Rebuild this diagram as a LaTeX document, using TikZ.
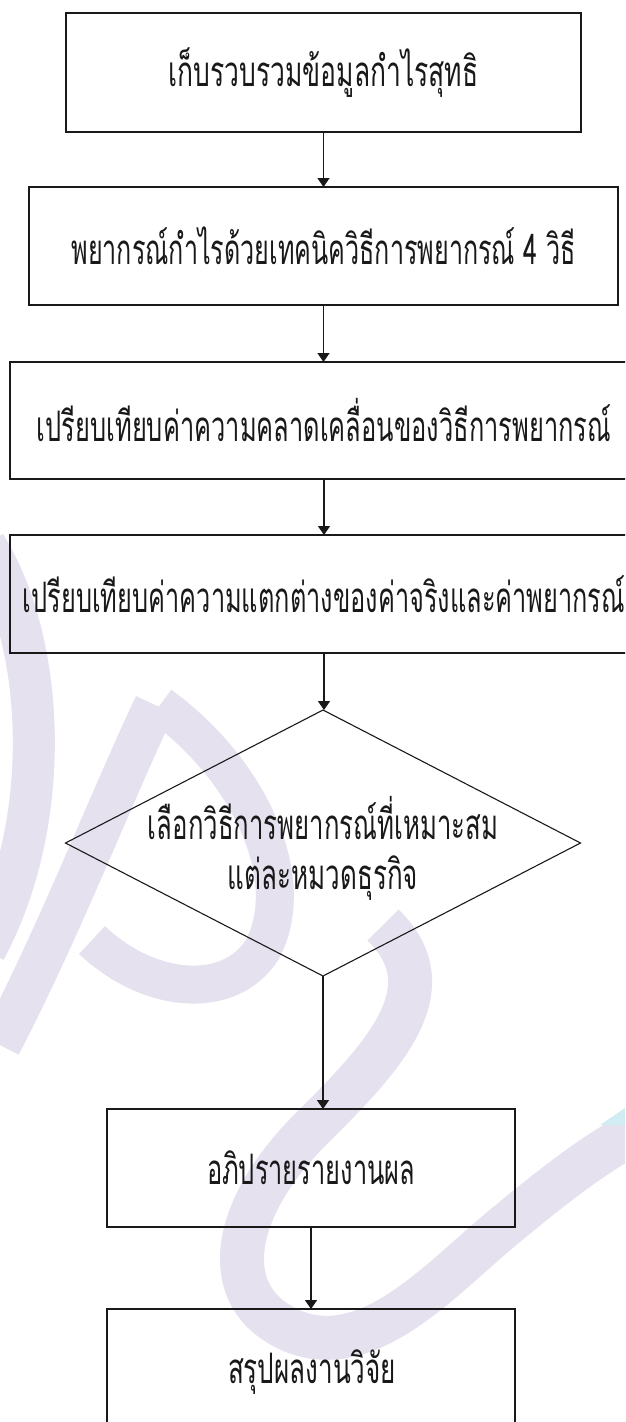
\documentclass[tikz,border=0pt]{standalone}
\usepackage{fontspec}
\usepackage{graphicx}
\newfontfamily\thai[Script=Thai]{Loma}
\usetikzlibrary{arrows.meta,shapes.geometric}
\definecolor{wm}{RGB}{229,225,239}
\definecolor{wmc}{RGB}{210,236,244}
\definecolor{ink}{RGB}{25,25,25}
\newcommand{\tx}[2]{\resizebox{#1pt}{\height}{#2}}
\tikzset{
  box/.style={draw=ink, line width=1.8pt, rectangle, inner sep=0pt, outer sep=0pt,
    font=\thai\fontsize{42}{48}\selectfont, text=ink},
  dia/.style={draw=ink, line width=1.1pt, diamond, inner sep=0pt, outer sep=0pt},
  lbl/.style={font=\thai\fontsize{42}{50}\selectfont, text=ink, inner sep=0pt, align=center},
  arr/.style={draw=ink, line width=1.5pt, -{Triangle[width=12pt,length=9pt]}},
  wmark/.style={draw=wm, line width=#1, line cap=butt},
}
\begin{document}
\begin{tikzpicture}[x=1pt,y=-1pt]
\useasboundingbox (0,0) rectangle (625,1422);
\clip (0,0) rectangle (625,1422);
% watermark
\draw[wmark=42pt] (-15,545) .. controls (45,640) and (55,820) .. (-15,950);
\draw[wmark=42pt] (155,705) .. controls (110,800) and (60,930) .. (0,1045);
\draw[wmark=38pt] (160,705) .. controls (250,770) and (300,880) .. (262,950)
  .. controls (230,1000) and (150,995) .. (92,940);
\draw[wmark=44pt] (383,925) .. controls (450,990) and (380,1060) .. (310,1130)
  .. controls (230,1210) and (215,1300) .. (295,1332)
  .. controls (370,1360) and (440,1280) .. (500,1230)
  .. controls (560,1180) and (600,1150) .. (640,1130);
\fill[wmc] (600,1125) -- (625,1108) -- (625,1125) -- cycle;
% flow
\node[box, minimum width=515pt, minimum height=119pt] (b1) at (323.5,72.5)
  {\tx{310}{เก็บรวบรวมข้อมูลกำไรสุทธิ}};
\node[box, minimum width=589pt, minimum height=118pt] (b2) at (323.5,246)
  {\tx{504}{พยากรณ์กำไรด้วยเทคนิควิธีการพยากรณ์ 4 วิธี}};
\node[box, minimum width=628pt, minimum height=117pt] (b3) at (324,420.5)
  {\tx{574}{เปรียบเทียบค่าความคลาดเคลื่อนของวิธีการพยากรณ์}};
\node[box, minimum width=628pt, minimum height=118pt] (b4) at (324,594)
  {\tx{602}{เปรียบเทียบค่าความแตกต่างของค่าจริงและค่าพยากรณ์}};
\node[dia, minimum width=515pt, minimum height=266pt] (d) at (323,843) {};
\node[lbl] (dt) at (323,848)
  {\tx{350}{เลือกวิธีการพยากรณ์ที่เหมาะสม}\\\tx{190}{แต่ละหมวดธุรกิจ}};
\node[box, minimum width=408pt, minimum height=118pt] (b5) at (311,1168)
  {\tx{208}{อภิปรายรายงานผล}};
\node[box, minimum width=408pt, minimum height=130pt, anchor=north] (b6) at (311,1309)
  {};
\node[lbl] (b6t) at (312,1372) {\tx{168}{สรุปผลงานวิจัย}};
\draw[arr] (b1.south) -- (b1.south |- b2.north);
\draw[arr] (b2.south) -- (b2.south |- b3.north);
\draw[arr] (b3.south) -- (b3.south |- b4.north);
\draw[arr] (b4.south) -- (b4.south |- d.north);
\draw[arr] (d.south) -- (d.south |- b5.north);
\draw[arr] (b5.south) -- (b6.north);
\end{tikzpicture}
\end{document}
